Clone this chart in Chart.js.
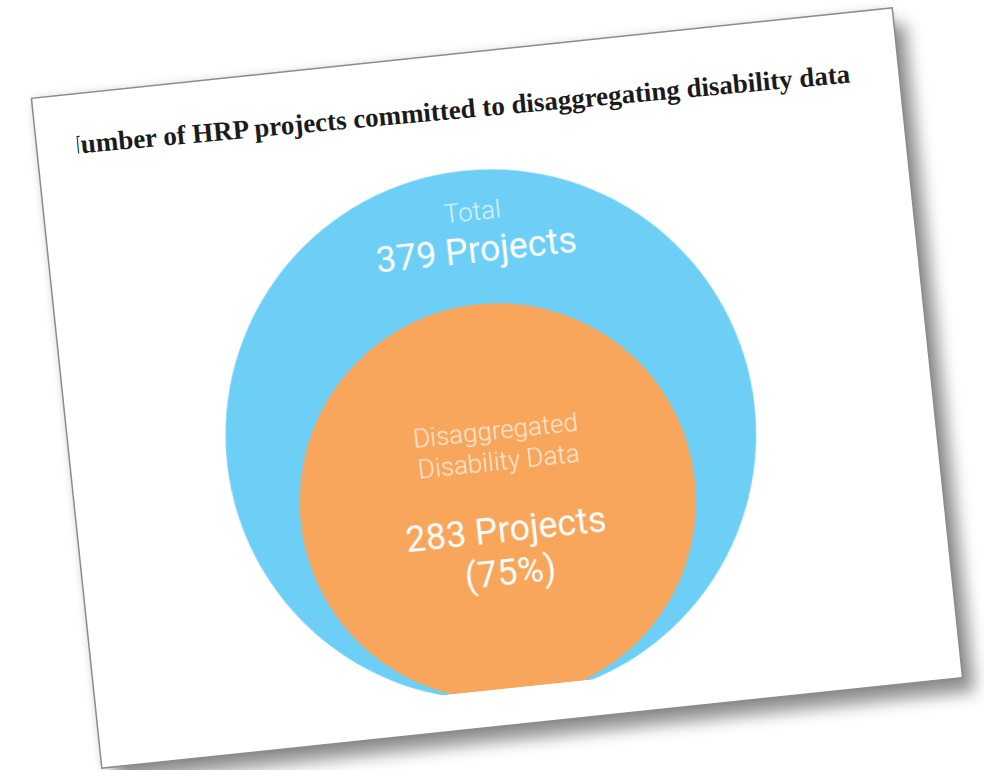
<!DOCTYPE html>
<html>
<head>
<meta charset="utf-8">
<script src="https://cdn.jsdelivr.net/npm/chart.js@4.4.1/dist/chart.umd.min.js"></script>
<style>
  html, body { margin: 0; padding: 0; background: #fff; }
  body { width: 984px; height: 770px; position: relative; overflow: hidden; }
  #card {
    position: absolute; left: 65px; top: 52px; width: 864px; height: 672px;
    background: #fff;
    transform: rotate(-6deg);
    box-shadow: 0 0 0 1.5px #8c8c8c, 0 0 10px rgba(0,0,0,0.18), 12px 16px 16px rgba(0,0,0,0.42);
  }
  #title {
    position: absolute; left: 40px; top: 34px; width: 815px; height: 34px;
    overflow: hidden; white-space: nowrap;
    transform: rotate(0.75deg); transform-origin: 0 50%;
    font-family: "Liberation Serif", serif; font-weight: bold; font-size: 27px; line-height: 32px;
    color: #1b1b1b;
  }
  #title span { display: inline-block; margin-left: -16px; }
  #wrap { position: absolute; left: 0; top: 0; width: 864px; height: 636px; }
</style>
</head>
<body>
<div id="card">
  <div id="title"><span>Number of HRP projects committed to disaggregating disability data</span></div>
  <div id="wrap"><canvas id="circles" width="864" height="636"></canvas></div>
</div>
<script>
// data
const categories = ['Total', 'Disaggregated Disability Data'];
const projects = [379, 283];
const nameLines = [['Total'], ['Disaggregated', 'Disability Data']];
const shareLabels = ['', '(75%)'];
const colors = ['#6dcff6', '#f8a65b'];

const ctx = document.getElementById('circles');

// px per project on both axes, so circles stay round
const unitPx = 0.7;
const W = 864, H = 636;
const cx = 421, baseY = 647; // where the circles touch, in canvas px

// radius in projects, measured in px along the x scale
function radiusOf(chart, v) {
    const x = chart.scales.x;
    if (!x) return 0;
    return x.getPixelForValue(v) - x.getPixelForValue(0);
}

const circleLabels = {
    id: 'circleLabels',
    afterDatasetsDraw(chart) {
        const c = chart.ctx;
        c.save();
        c.textAlign = 'center';
        c.textBaseline = 'middle';
        categories.forEach((cat, i) => {
            const el = chart.getDatasetMeta(i).data[0];
            const r = el.options.radius;
            const top = el.y - r;
            const tx = el.x + 5;
            let nameY, valueY;
            if (i === 0) { nameY = top + 44; valueY = top + 84; }
            else { nameY = el.y - 68; valueY = el.y + 32; }
            c.fillStyle = 'rgba(255,255,255,0.78)';
            c.font = '300 26px Roboto';
            nameLines[i].forEach((t, j) => c.fillText(t, tx, nameY + j * 30.5));
            c.fillStyle = '#ffffff';
            c.font = '400 36px Roboto';
            const vals = [projects[i] + ' Projects'];
            if (shareLabels[i]) vals.push(shareLabels[i]);
            vals.forEach((t, j) => c.fillText(t, tx, valueY + j * 43.5));
        });
        c.restore();
    }
};

new Chart(ctx, {
    type: 'scatter',
    data: {
        datasets: categories.map((cat, i) => ({
            label: cat,
            // centre sits one radius above the shared base line
            data: [{x: 0, y: projects[i]}],
            backgroundColor: colors[i],
            pointBorderWidth: 0,
            pointRadius: (c) => radiusOf(c.chart, projects[i]),
            pointHoverRadius: (c) => radiusOf(c.chart, projects[i]),
            order: categories.length - i
        }))
    },
    options: {
        responsive: false,
        animation: false,
        events: [],
        layout: { padding: 0, autoPadding: false },
        plugins: { legend: { display: false }, tooltip: { enabled: false } },
        scales: {
            x: { display: false, min: -cx / unitPx, max: (W - cx) / unitPx },
            y: { display: false, min: (baseY - H) / unitPx, max: baseY / unitPx }
        }
    },
    plugins: [circleLabels]
});
</script>
</body>
</html>
